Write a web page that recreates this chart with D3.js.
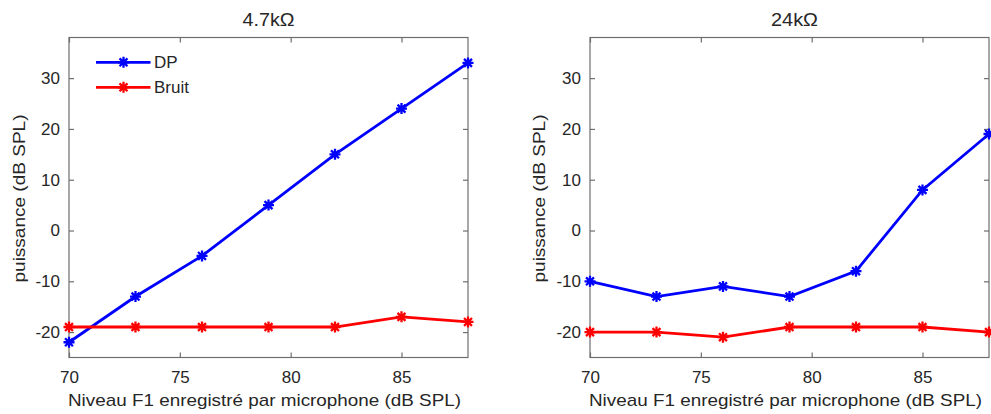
<!DOCTYPE html>
<html><head><meta charset="utf-8">
<script src="https://cdn.jsdelivr.net/npm/d3@7"></script>
<style>body{margin:0;background:#fff}svg{display:block}text{font-family:"Liberation Sans",Arial,sans-serif;fill:#262626}</style>
</head><body>
<svg id="c" width="991" height="414"></svg>
<script>
const xLevels = [70, 73, 76, 79, 82, 85, 88];
const dp47 = [-22, -13, -5, 5, 15, 24, 33];
const bruit47 = [-19, -19, -19, -19, -19, -17, -18];
const dp24 = [-10, -13, -11, -13, -8, 8, 19];
const bruit24 = [-20, -20, -21, -19, -19, -19, -20];
const xTicks = [70, 75, 80, 85];
const yTicks = [-20, -10, 0, 10, 20, 30];
const titles = ["4.7kΩ", "24kΩ"];
const seriesNames = ["DP", "Bruit"];
const colors = ["#0000ff", "#ff0000"];
const xLabel = "Niveau F1 enregistré par microphone (dB SPL)";
const yLabel = "puissance (dB SPL)";

const svg = d3.select("#c");
const panels = [
  {left: 69, title: titles[0], titleShift: 0, ylabOff: 44, series: [dp47, bruit47], legend: true},
  {left: 590, title: titles[1], titleShift: 5, ylabOff: 45, series: [dp24, bruit24], legend: false}
];
const plotTop = 37.5, plotBottom = 357.5, plotWidth = 399;

function star(g, x, y, color) {
  const r = 5.5, d = r * 0.72;
  const p = `M${x-r},${y}L${x+r},${y}M${x},${y-r}L${x},${y+r}M${x-d},${y-d}L${x+d},${y+d}M${x-d},${y+d}L${x+d},${y-d}`;
  g.append("path").attr("d", p).attr("stroke", color).attr("stroke-width", 2.3).attr("fill", "none");
}

panels.forEach(p => {
  const x = d3.scaleLinear().domain([70, 88]).range([p.left, p.left + plotWidth]);
  const y = d3.scaleLinear().domain([-25, 38]).range([plotBottom, plotTop]);
  const g = svg.append("g");
  const axisColor = "#6e6e6e";
  const fmt = d => String(d);
  g.append("rect").attr("x", x(70)).attr("y", plotTop).attr("width", plotWidth).attr("height", plotBottom - plotTop)
    .attr("fill", "none").attr("stroke", axisColor).attr("stroke-width", 1.2);
  const ax = g.append("g").attr("transform", `translate(0,${plotBottom})`)
    .call(d3.axisBottom(x).tickValues(xTicks).tickSize(-5).tickPadding(13.4).tickFormat(fmt));
  const axTop = g.append("g").attr("transform", `translate(0,${plotTop})`)
    .call(d3.axisTop(x).tickValues(xTicks).tickSize(-5).tickFormat(""));
  const ay = g.append("g").attr("transform", `translate(${x(70)},0)`)
    .call(d3.axisLeft(y).tickValues(yTicks).tickSize(-5).tickPadding(9).tickFormat(fmt));
  const ayR = g.append("g").attr("transform", `translate(${x(88)},0)`)
    .call(d3.axisRight(y).tickValues(yTicks).tickSize(-5).tickFormat(""));
  [ax, axTop, ay, ayR].forEach(a => {
    a.select(".domain").remove();
    a.selectAll(".tick line").attr("stroke", axisColor).attr("stroke-width", 1.2);
    a.selectAll(".tick text").attr("font-size", 17).attr("fill", "#262626")
      .style("font-family", '"Liberation Sans",Arial,sans-serif');
  });
  p.series.forEach((vals, si) => {
    const pts = xLevels.map((xv, i) => [x(xv), y(vals[i])]);
    g.append("path").attr("d", d3.line()(pts)).attr("stroke", colors[si]).attr("stroke-width", 2.8).attr("fill", "none");
    pts.forEach(pt => star(g, pt[0], pt[1], colors[si]));
  });
  const cx = (x(70) + x(88)) / 2;
  g.append("text").attr("x", cx + p.titleShift).attr("y", 26).attr("text-anchor", "middle").attr("font-size", 18)
    .attr("textLength", p.title.length === 5 ? 52 : 47).attr("lengthAdjust", "spacingAndGlyphs").text(p.title);
  g.append("text").attr("x", cx - 4).attr("y", 406).attr("text-anchor", "middle").attr("font-size", 17)
    .attr("textLength", 393).attr("lengthAdjust", "spacingAndGlyphs").text(xLabel);
  g.append("text").attr("transform", `translate(${p.left - p.ylabOff},${(plotTop + plotBottom) / 2 + 1}) rotate(-90)`)
    .attr("text-anchor", "middle").attr("font-size", 17)
    .attr("textLength", 168).attr("lengthAdjust", "spacingAndGlyphs").text(yLabel);
  if (p.legend) {
    seriesNames.forEach((name, si) => {
      const ly = 62.3 + si * 25;
      g.append("line").attr("x1", 96).attr("x2", 150.5).attr("y1", ly).attr("y2", ly)
        .attr("stroke", colors[si]).attr("stroke-width", 2.8);
      star(g, 123.5, ly, colors[si]);
      g.append("text").attr("x", 154).attr("y", ly + 6).attr("font-size", 17).text(name);
    });
  }
});
</script>
</body></html>
